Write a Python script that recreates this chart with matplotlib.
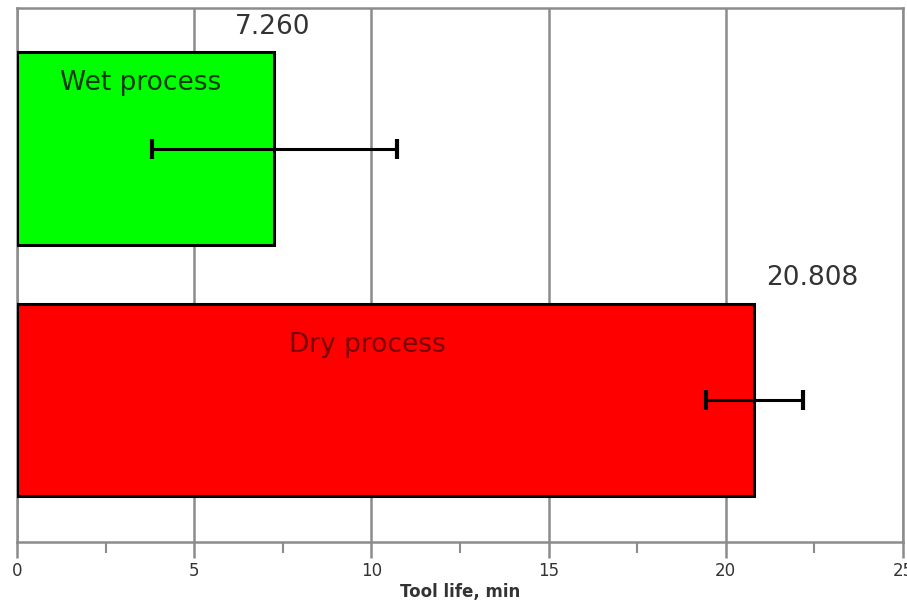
import matplotlib

matplotlib.use('Agg')
from matplotlib import pyplot as plt
from matplotlib.ticker import MultipleLocator

# data
processes = ['Dry process', 'Wet process']
tool_life = [20.808, 7.260]
tool_life_err = [1.38, 3.45]
bar_colors = ['#ff0000', '#00ff00']
value_labels = ['20.808', '7.260']

plt.rcParams['font.family'] = ['DejaVu Sans']

fig = plt.figure(figsize=(9.07, 6.02), dpi=100)
ax = fig.add_axes([0.0187, 0.0997, 0.9769, 0.887])

y_pos = range(len(processes))
ax.barh(y_pos, tool_life, height=0.767, color=bar_colors, edgecolor='black',
        linewidth=2.2, zorder=3)
ax.errorbar(tool_life, y_pos, xerr=tool_life_err, fmt='none', ecolor='black',
            elinewidth=2.2, capsize=7, capthick=3, zorder=4)

# value above each bar, name inside each bar
label_x = [22.45, 7.2]
for i, (x, txt) in enumerate(zip(label_x, value_labels)):
    ax.text(x, i + 0.485, txt, ha='center', va='center', fontsize=19,
            color='#333333', zorder=5)
ax.text(9.9, 0.22, processes[0], ha='center', va='center', fontsize=19,
        color='#7a0000', zorder=5)
ax.text(3.5, 1.26, processes[1], ha='center', va='center', fontsize=19,
        color='#0a3a0a', zorder=5)

ax.set_xlim(0, 25)
ax.set_ylim(-0.565, 1.559)
ax.xaxis.set_major_locator(MultipleLocator(5))
ax.xaxis.set_minor_locator(MultipleLocator(2.5))
ax.set_yticks([])
ax.grid(True, axis='x', which='major', color='#8c8c8c', linewidth=1.8, zorder=0)

for s in ax.spines.values():
    s.set_color('#8c8c8c')
    s.set_linewidth(1.8)

ax.tick_params(axis='x', which='major', direction='out', length=11.5, width=1.8,
               color='#8c8c8c', labelsize=12, labelcolor='#333333', pad=3)
ax.tick_params(axis='x', which='minor', direction='out', length=8, width=1.5,
               color='#8c8c8c')
ax.set_xlabel('Tool life, min', fontsize=12, fontweight='semibold',
              color='#333333', labelpad=2)

fig.savefig('out.png', dpi=100)
plt.close('all')
